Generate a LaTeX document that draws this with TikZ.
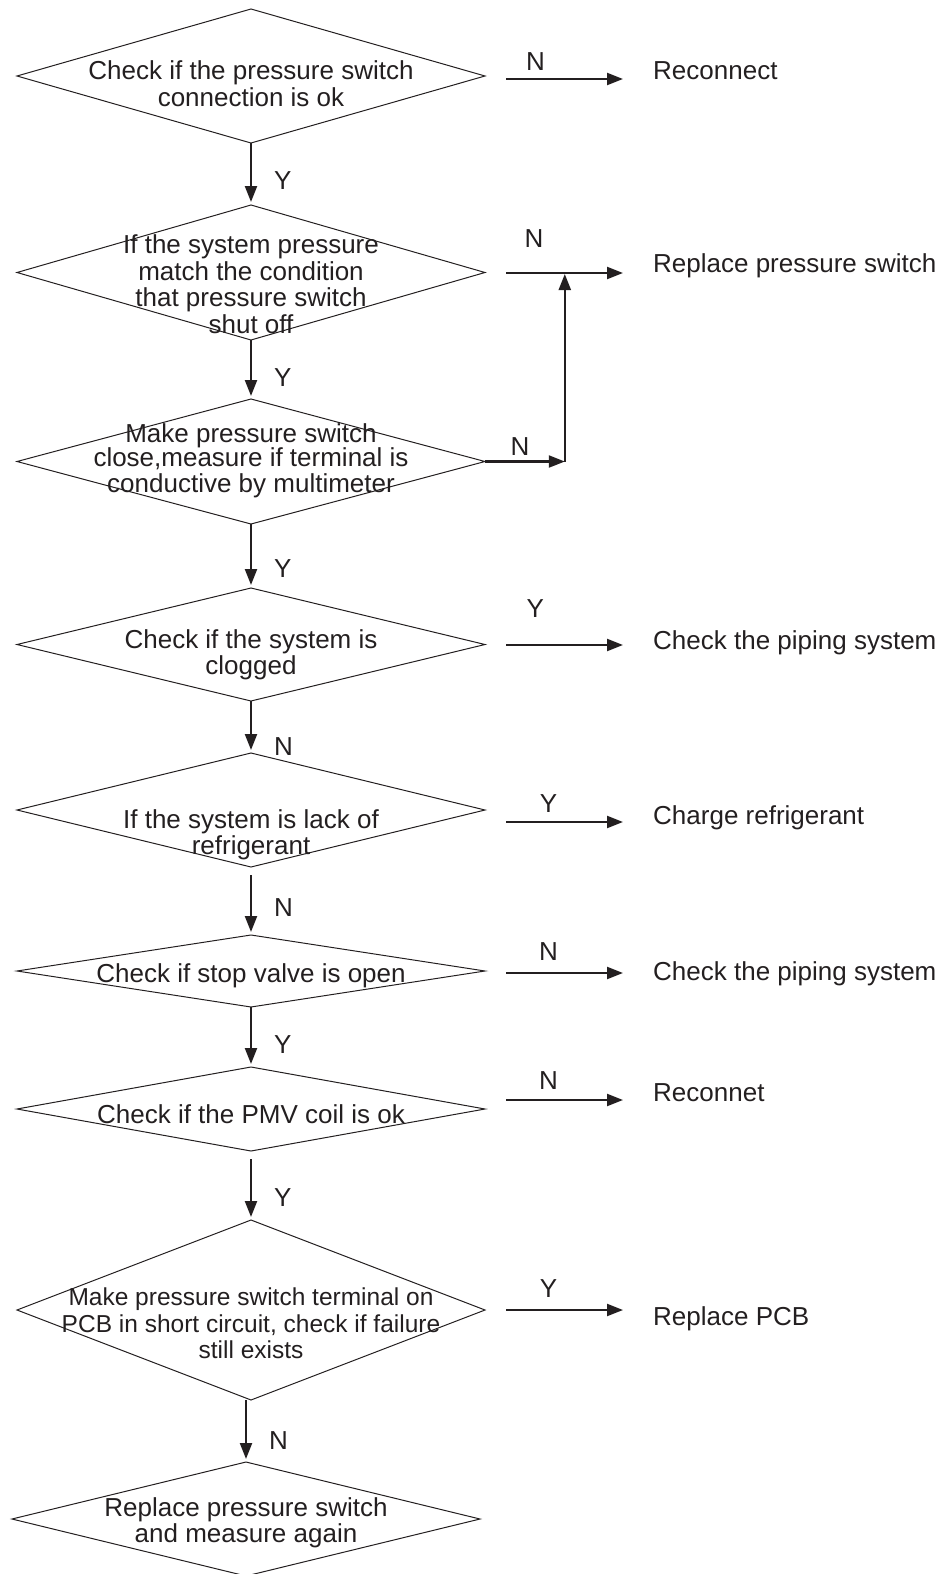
\documentclass[tikz,border=0pt]{standalone}
\usepackage{fontspec}
\setmainfont{Liberation Sans}
\usetikzlibrary{shapes.geometric,arrows.meta,positioning}
\definecolor{ink}{HTML}{231F20}

\begin{document}
\begin{tikzpicture}[x=1pt,y=-1pt,font=\fontsize{26}{26.5}\selectfont,
  dec/.style={diamond,draw=ink,line width=1pt,inner sep=0pt,outer sep=0pt,minimum width=468pt},
  txt/.style={align=center,text=ink,inner sep=0pt},
  res/.style={anchor=base west,text=ink,inner sep=0pt},
  lbl/.style={text=ink,inner sep=0pt},
  arr/.style={-{Triangle[length=16pt,width=12pt]},line width=2.2pt,ink,shorten >=3pt}]
\useasboundingbox (0,0) rectangle (948,1574);
% decision chain
\node[dec,minimum height=134pt,label={[txt,yshift=-7.5pt]center:{Check if the pressure switch\\connection is ok}}] (d1) at (251,76) {};
\node[dec,minimum height=135pt,below=62pt of d1,label={[txt,yshift=-11.5pt]center:{If the system pressure\\match the condition\\that pressure switch\\shut off}}] (d2) {};
\node[dec,minimum height=125pt,below=59pt of d2,label={[txt,yshift=0.5pt]center:{Make pressure switch\\[-3pt]close,measure if terminal is\\conductive by multimeter}}] (d3) {};
\node[dec,minimum height=113pt,below=64pt of d3,label={[txt,yshift=-10.5pt]center:{Check if the system is\\clogged}}] (d4) {};
\node[dec,minimum height=114pt,below=52pt of d4,label={[txt,yshift=-25pt]center:{If the system is lack of\\refrigerant}}] (d5) {};
\node[dec,minimum height=72pt,below=68pt of d5,label={[txt,yshift=-5pt]center:{Check if stop valve is open}}] (d6) {};
\node[dec,minimum height=84pt,below=60pt of d6,label={[txt,yshift=-5.5pt]center:{Check if the PMV coil is ok}}] (d7) {};
\node[dec,minimum height=180pt,below=69pt of d7,label={[txt,yshift=-13.5pt,font=\fontsize{24.5}{26.5}\selectfont]center:{Make pressure switch terminal on\\PCB in short circuit, check if failure\\still exists}}] (d8) {};
\node[dec,minimum height=114pt,below=62pt of d8,xshift=-5pt,label={[txt,yshift=-4pt]center:{Replace pressure switch\\and measure again}}] (d9) {};
% outcomes
\node[res] (r1) at (653,79) {Reconnect};
\node[res] (r2) at (653,272) {Replace pressure switch};
\node[res] (r4) at (653,649) {Check the piping system};
\node[res] (r5) at (653,824) {Charge refrigerant};
\node[res] (r6) at (653,980) {Check the piping system};
\node[res] (r7) at (653,1101) {Reconnet};
\node[res] (r8) at (653,1325) {Replace PCB};
\coordinate (o1) at (506,79);
\coordinate (o2) at (506,273);
\coordinate (o4) at (506,645);
\coordinate (o5) at (506,822);
\coordinate (o6) at (506,973);
\coordinate (o7) at (506,1100);
\coordinate (o8) at (506,1310);
% down arrows
\draw[arr] (d1.south) -- (d2.north) node[lbl,right=22pt,pos=0.6]{Y};
\draw[arr] (d2.south) -- (d3.north) node[lbl,right=22pt,pos=0.64]{Y};
\draw[arr] (d3.south) -- (d4.north) node[lbl,right=22pt,pos=0.69]{Y};
\draw[arr] (d4.south) -- (d5.north) node[lbl,right=22pt,pos=0.87]{N};
\draw[arr,shorten <=8pt] (d5.south) -- (d6.north) node[lbl,right=22pt,pos=0.6]{N};
\draw[arr] (d6.south) -- (d7.north) node[lbl,right=22pt,pos=0.63]{Y};
\draw[arr,shorten <=8pt] (d7.south) -- (d8.north) node[lbl,right=22pt,pos=0.67]{Y};
\draw[arr] (d8.south -| d9.north) -- (d9.north) node[lbl,right=22pt,pos=0.65]{N};
% side arrows
\draw[arr,shorten >=30pt] (o1) -- (o1 -| r1.west) node[lbl,above=7pt,pos=0.2]{N};
\draw[arr,shorten >=30pt] (o2) -- coordinate[pos=0.4] (m2) (o2 -| r2.west) node[lbl,above=24pt,pos=0.19]{N};
\draw[arr,shorten >=0pt] (d3.east) -- (d3.east -| m2) node[lbl,above=5pt,pos=0.44]{N};
\draw[arr,shorten >=1pt] (d3.east -| m2) -- (m2);
\draw[arr,shorten >=30pt] (o4) -- (o4 -| r4.west) node[lbl,above=26pt,pos=0.2]{Y};
\draw[arr,shorten >=30pt] (o5) -- (o5 -| r5.west) node[lbl,above=8pt,pos=0.29]{Y};
\draw[arr,shorten >=30pt] (o6) -- (o6 -| r6.west) node[lbl,above=11pt,pos=0.29]{N};
\draw[arr,shorten >=30pt] (o7) -- (o7 -| r7.west) node[lbl,above=9pt,pos=0.29]{N};
\draw[arr,shorten >=30pt] (o8) -- (o8 -| r8.west) node[lbl,above=11pt,pos=0.29]{Y};
\end{tikzpicture}
\end{document}
